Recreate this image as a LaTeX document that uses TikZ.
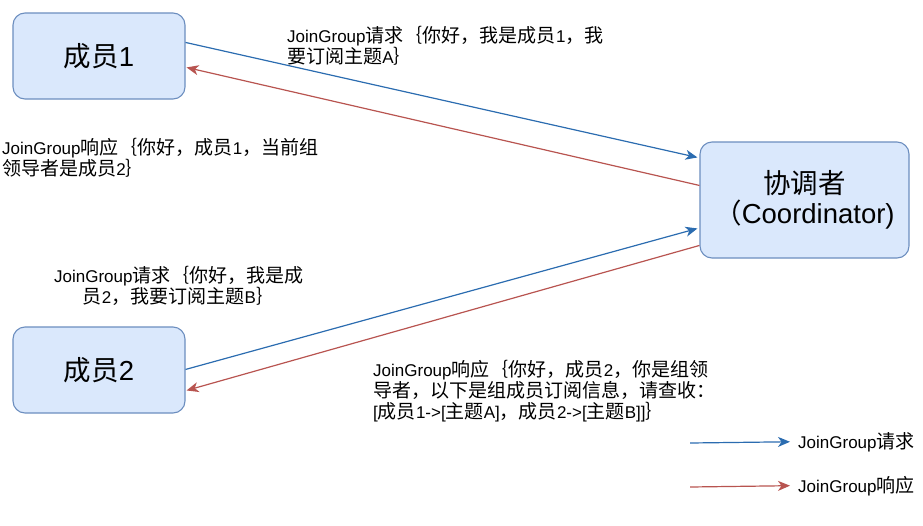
\documentclass[tikz,border=0pt]{standalone}
\usepackage{fontspec}
\setmainfont{Liberation Sans}
\newfontfamily\cjklabel[Scale=1.12]{Noto Sans CJK SC}
\newfontfamily\cjkplain{Noto Sans CJK SC}
\let\cjk\cjklabel
\usetikzlibrary{arrows.meta,calc}

% Switch between the Latin and the CJK font automatically
\XeTeXinterchartokenstate=1
\ifdefined\newXeTeXintercharclass
  \newXeTeXintercharclass\cjkclass
\else
  \chardef\cjkclass=7
\fi
\newcommand\setcharrange[3]{%
  \count255=#1\relax
  \loop\ifnum\count255<\numexpr#2+1\relax
    \XeTeXcharclass\count255=#3\relax
    \advance\count255 by 1
  \repeat}
\setcharrange{0}{"2FFF}{0}
\setcharrange{"3000}{"303F}{\cjkclass}
\setcharrange{"4E00}{"9FFF}{\cjkclass}
\setcharrange{"FF00}{"FFEF}{\cjkclass}
\XeTeXinterchartoks 0 \cjkclass = {\cjk}
\XeTeXinterchartoks 4095 \cjkclass = {\cjk}
\XeTeXinterchartoks \cjkclass 0 = {\normalfont}

\definecolor{boxfill}{HTML}{DAE8FC}
\definecolor{boxline}{HTML}{6C8EBF}
\definecolor{reqblue}{HTML}{2B6CB0}
\definecolor{resred}{HTML}{B85450}

\tikzset{
  party/.style={draw=boxline, fill=boxfill, line width=1.1pt, rounded corners=12pt,
    inner sep=0pt, align=center,
    font=\fontsize{27.5}{30}\selectfont\let\cjk\cjkplain},
  lbl/.style={inner sep=0pt, align=left, font=\fontsize{17}{21}\selectfont},
  req/.style={draw=reqblue, line width=1.2pt,
    -{Stealth[length=12pt,width=10pt,inset=3.5pt]}},
  res/.style={draw=resred, line width=1.2pt,
    -{Stealth[length=12pt,width=10pt,inset=3.5pt]}},
}

\begin{document}
\begin{tikzpicture}[x=1pt,y=-1pt]
\useasboundingbox (0,0) rectangle (923,525);

% participants
\node[party, minimum width=172pt, minimum height=86pt] (m1) at (99,56) {成员1};
\node[party, minimum width=172pt, minimum height=86pt] (m2) at (99,370) {成员2};
\node[party, minimum width=209pt, minimum height=116pt] (co) at (804.5,200)
  {协调者\\（Coordinator)};

% messages
\draw[req] ($(m1.north east)+(0,30)$) -- ($(co.north west)+(-2,16)$);
\draw[res] ($(co.north west)+(0,44)$) -- ($(m1.north east)+(1,55)$);
\draw[req] ($(m2.north east)+(0,43)$) -- ($(co.north west)+(-2,87)$);
\draw[res] ($(co.north west)+(0,104)$) -- ($(m2.north east)+(1,64)$);

% message texts (base anchor = baseline of the last line)
\node[lbl, anchor=base west] (t1) at (287,63)
  {JoinGroup请求｛你好，我是成员1，我\\要订阅主题A｝};
\node[lbl, anchor=base west] (t2) at (2,175)
  {JoinGroup响应｛你好，成员1，当前组\\领导者是成员2｝};
\node[lbl, align=center, anchor=base] (t3) at (179,303)
  {JoinGroup请求｛你好，我是成\\员2，我要订阅主题B｝};
\node[lbl, anchor=base west] (t4) at (373,418)
  {JoinGroup响应｛你好，成员2，你是组领\\导者，以下是组成员订阅信息，请查收：\\{[}成员1->[主题A]，成员2->[主题B]]｝};

% legend
\coordinate (la) at (690,443);
\coordinate (lb) at (690,487);
\node[lbl, anchor=base west] (lta) at (798,448) {JoinGroup请求};
\node[lbl, anchor=base west] (ltb) at (798,492) {JoinGroup响应};
\draw[req] (la) -- ($(lta.west)+(-8,0)$);
\draw[res] (lb) -- ($(ltb.west)+(-8,0)$);
\end{tikzpicture}
\end{document}
